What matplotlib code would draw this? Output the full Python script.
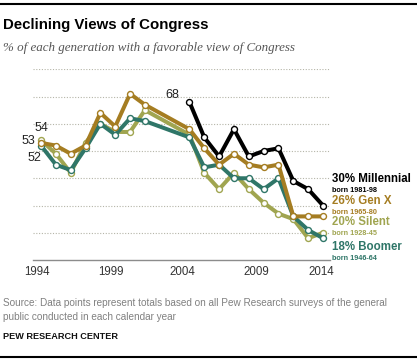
import matplotlib
matplotlib.use("Agg")
import matplotlib.pyplot as plt

# datos
years = [1994, 1995, 1996, 1997, 1998, 1999, 2000, 2001,
         2004, 2005, 2006, 2007, 2008, 2009, 2010, 2011, 2012, 2013]
years_millennial = [2004, 2005, 2006, 2007, 2008, 2009, 2010, 2011, 2012, 2013]

millennial = [68, 55, 48, 58, 48, 50, 51, 39, 36, 30]
gen_x = [53, 52, 49, 52, 64, 59, 71, 67, 58, 51, 45, 49, 45, 44, 45, 26, 26, 26]
silent = [54, 49, 42, 53, 60, 57, 57, 65, 56, 42, 36, 42, 36, 31, 27, 25, 18, 20]
boomer = [52, 45, 43, 51, 60, 56, 62, 61, 55, 44, 45, 40, 40, 36, 40, 26, 21, 18]

tick_labels = ["1994", "1999", "2004", "2009", "2014"]
tick_pos = [1993.7, 1998.7, 2003.5, 2008.5, 2012.9]

colores = {
    "millennial": "#000000",
    "genx": "#A57D22",
    "silent": "#A0A550",
    "boomer": "#2F7668",
}

W, H = 417, 361
fig = plt.figure(figsize=(W / 100, H / 100), dpi=100)


def fx(px):
    return px / W


def fy(py):
    return 1 - py / H


ax = fig.add_axes([fx(33), fy(260), fx(330) - fx(33), fy(69.3) - fy(260)])

series = [
    (years, silent, colores["silent"]),
    (years, boomer, colores["boomer"]),
    (years, gen_x, colores["genx"]),
    (years_millennial, millennial, colores["millennial"]),
]
for xs, ys, c in series:
    ax.plot(xs, ys, color=c, lw=2.9, marker="o", ms=4.3, mfc="white",
            mec=c, mew=1.0, solid_joinstyle="miter", zorder=3)

ax.set_xlim(1993.46, 2013.47)
ax.set_ylim(10, 80)
ax.set_yticks([20, 30, 40, 50, 60, 70, 80])
ax.yaxis.grid(True, linestyle=(0, (1, 1.5)), color="#b5b5a8", lw=0.8)
ax.set_yticklabels([])
ax.tick_params(axis="y", length=0)
ax.set_xticks(tick_pos)
ax.set_xticklabels(tick_labels, fontsize=8.3, color="#333333",
                   family="Liberation Sans")
ax.tick_params(axis="x", length=0, pad=4)
for s in ["top", "right", "left"]:
    ax.spines[s].set_visible(False)
ax.spines["bottom"].set_color("#8c8c8c")
ax.spines["bottom"].set_linewidth(1)

# valores de inicio
anot = dict(textcoords="offset points", fontsize=9, ha="center", va="center",
            family="Liberation Sans", color="#222222")
ax.annotate("68", (years_millennial[0], millennial[0]), xytext=(-12, 5), **anot)
ax.annotate("54", (years[0], silent[0]), xytext=(0, 9), **anot)
ax.annotate("53", (years[0], gen_x[0]), xytext=(-9, 1), **anot)
ax.annotate("52", (years[0], boomer[0]), xytext=(-5, -9), **anot)

# etiquetas a la derecha
etiquetas = [
    ("30% Millennial", "born 1981-98", colores["millennial"], 179, 190),
    ("26% Gen X", "born 1965-80", colores["genx"], 200.7, 212.3),
    ("20% Silent", "born 1928-45", colores["silent"], 222.3, 233.7),
    ("18% Boomer", "born 1946-64", colores["boomer"], 246.7, 258.3),
]
for nombre, born, c, y1, y2 in etiquetas:
    fig.text(fx(332), fy(y1), nombre, color=c, fontsize=8.3, weight="bold",
             family="Liberation Sans", va="center", ha="left")
    fig.text(fx(332), fy(y2), born, color=c, fontsize=5.2, weight="bold",
             family="Liberation Sans", va="center", ha="left")

# titulo y notas
fig.add_artist(plt.Line2D([0, 1], [fy(4), fy(4)], color="black", lw=1.5))
fig.add_artist(plt.Line2D([0, 1], [fy(357.3), fy(357.3)], color="black", lw=1.5))
fig.text(fx(3), fy(25.5), "Declining Views of Congress", fontsize=10.8,
         weight="bold", family="Liberation Sans", va="center", ha="left")
fig.text(fx(3), fy(48), "% of each generation with a favorable view of Congress",
         fontsize=9.4, style="italic", family="Liberation Serif", color="#555555",
         va="center", ha="left")
fig.text(fx(3), fy(303.3),
         "Source: Data points represent totals based on all Pew Research surveys of the general",
         fontsize=7.2, family="Liberation Sans", color="#808080", va="center", ha="left")
fig.text(fx(3), fy(317.3), "public conducted in each calendar year",
         fontsize=7.2, family="Liberation Sans", color="#808080", va="center", ha="left")
fig.text(fx(3), fy(336.7), "PEW RESEARCH CENTER", fontsize=6.6, weight="bold",
         family="Liberation Sans", color="#111111", va="center", ha="left")

fig.savefig("out.png", dpi=100)
